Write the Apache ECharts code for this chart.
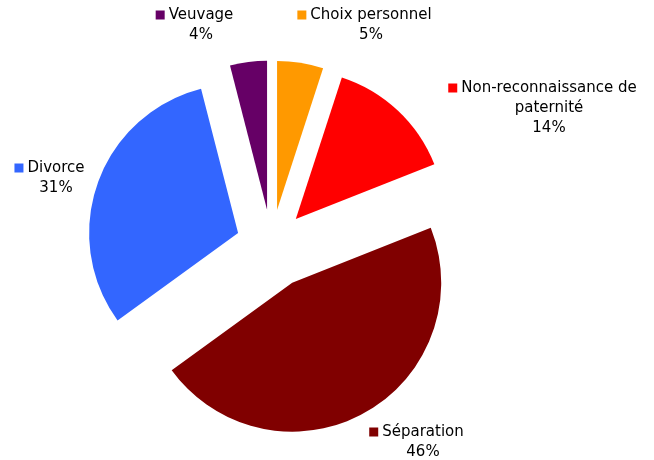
<!DOCTYPE html>
<html>
<head>
<meta charset="utf-8">
<script src="https://cdn.jsdelivr.net/npm/echarts@6/dist/echarts.min.js"></script>
<style>
html,body{margin:0;padding:0;background:#fff;}
#c{width:654px;height:460px;}
</style>
</head>
<body>
<div id="c"></div>
<script>
// Data
var categories = ['Choix personnel', 'Non-reconnaissance de\npaternité', 'Séparation', 'Divorce', 'Veuvage'];
var values = [5, 14, 46, 31, 4];
var colors = ['#FF9900', '#FF0000', '#800000', '#3366FF', '#660066'];

// Layout (not data): label anchors (text center x, top y) and slice explosion
var labelAnchors = [[371, 5], [549, 78], [423, 422], [56, 158], [201, 5]];
var bigOffsetIndex = 2; // Séparation is pulled further out
var smallOffset = 35.5, bigOffset = 43;

var chart = echarts.init(document.getElementById('c'), null, {renderer: 'canvas'});

function buildData(visibleTest) {
  return categories.map(function (name, i) {
    var vis = visibleTest(i);
    return {
      name: name,
      value: values[i],
      selected: true,
      itemStyle: { color: colors[i], opacity: vis ? 1 : 0 }
    };
  });
}

function makeSeries(offset, visibleTest) {
  return {
    type: 'pie',
    center: [271.5, 245],
    radius: 149,
    startAngle: 90,
    clockwise: true,
    selectedMode: 'multiple',
    selectedOffset: offset,
    silent: true,
    animation: false,
    itemStyle: { borderWidth: 0 },
    emphasis: { disabled: true, scale: false },
    select: { itemStyle: { borderWidth: 0 } },
    label: { show: false },
    labelLine: { show: false },
    data: buildData(visibleTest)
  };
}

var labelGraphics = categories.map(function (name, i) {
  var a = labelAnchors[i];
  var lines = name.split('\n');
  lines[0] = '{sq|}{g|}' + lines[0] + '{p|}';
  return {
    type: 'text',
    x: a[0],
    y: a[1],
    silent: true,
    style: {
      text: lines.join('\n') + '\n' + values[i] + '%',
      font: '15px "DejaVu Sans"',
      fill: '#000',
      align: 'center',
      textAlign: 'center',
      verticalAlign: 'top',
      textVerticalAlign: 'top',
      lineHeight: 20,
      rich: {
        sq: { width: 9, height: 9, backgroundColor: colors[i] },
        g: { width: 4, height: 9 },
        p: { width: 13, height: 9 }
      }
    }
  };
});

chart.setOption({
  backgroundColor: '#fff',
  animation: false,
  series: [
    makeSeries(smallOffset, function (i) { return i !== bigOffsetIndex; }),
    makeSeries(bigOffset, function (i) { return i === bigOffsetIndex; })
  ],
  graphic: { elements: labelGraphics }
});
</script>
</body>
</html>
